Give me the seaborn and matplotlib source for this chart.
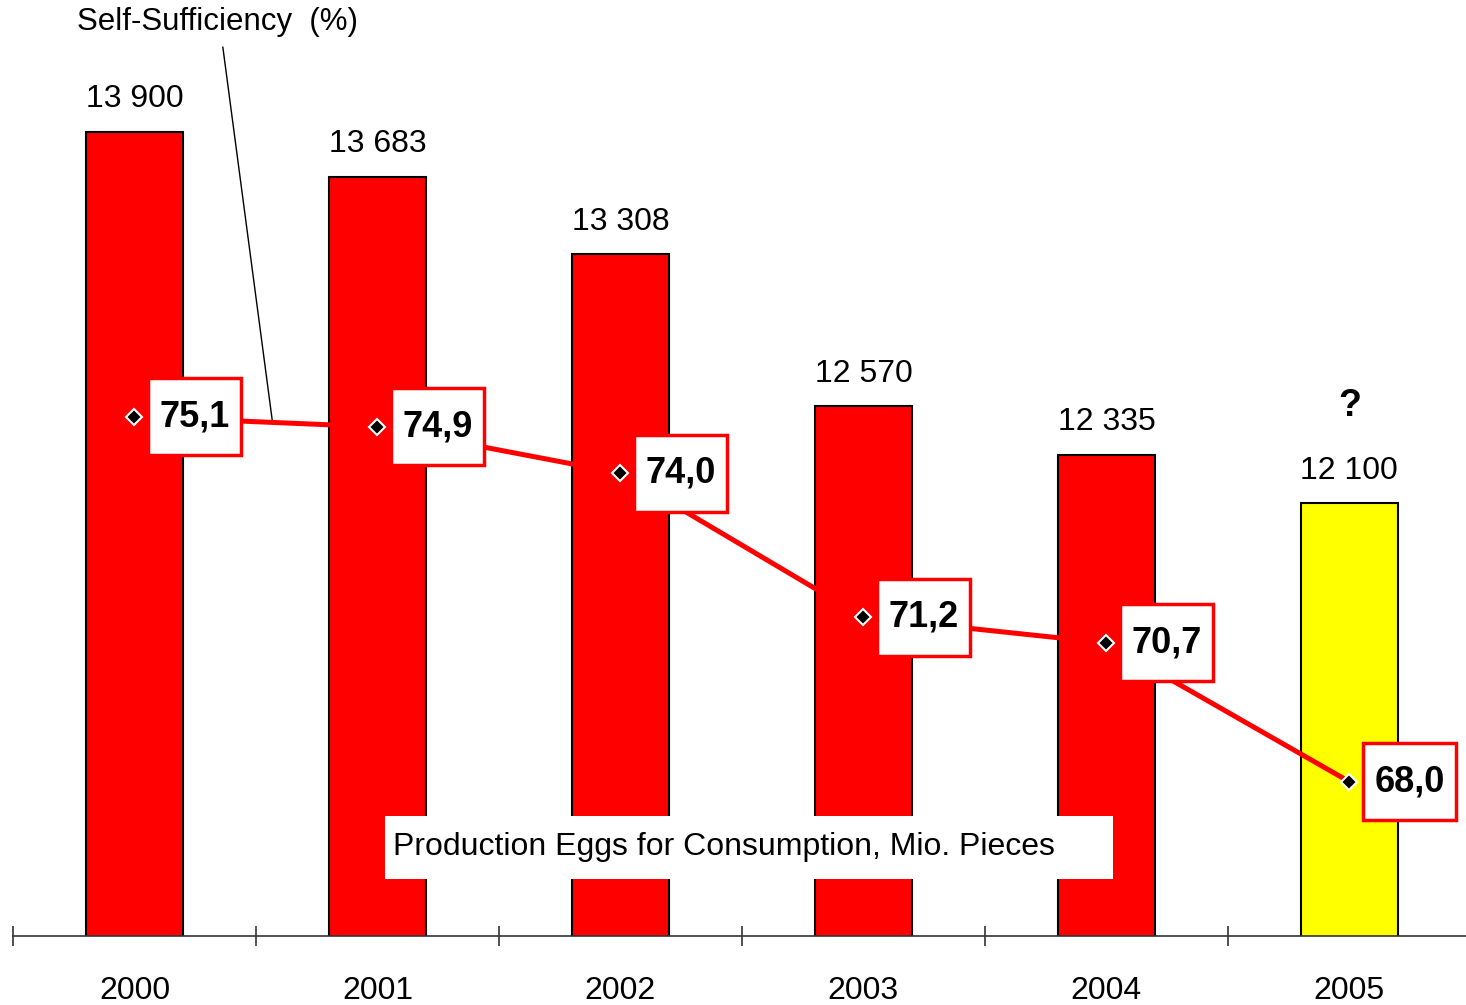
import matplotlib
matplotlib.use("Agg")
import matplotlib.pyplot as plt
import matplotlib.patches as mpatches
from matplotlib.path import Path
import seaborn as sns
import pandas as pd
import numpy as np

years = ['2000', '2001', '2002', '2003', '2004', '2005']
production = [13900, 13683, 13308, 12570, 12335, 12100]
self_suff = [75.1, 74.9, 74.0, 71.2, 70.7, 68.0]
bar_colors = ['#ff0000', '#ff0000', '#ff0000', '#ff0000', '#ff0000', '#ffff00']

sns.set_style('white')
plt.rcParams['font.family'] = ['Liberation Sans', 'DejaVu Sans']
plt.rcParams['text.color'] = 'black'
plt.rcParams['xtick.color'] = 'black'


def label_box(x0, y0, width, height, mutation_size):
    # taller than wide padding, like the spreadsheet data labels
    px = 0.32 * mutation_size
    py = 0.58 * mutation_size
    x0, y0 = x0 - px, y0 - py
    x1, y1 = x0 + width + 2 * px, y0 + height + 2 * py
    return Path([(x0, y0), (x1, y0), (x1, y1), (x0, y1), (x0, y0)], closed=True)


df = pd.DataFrame({'year': years, 'prod': production, 'ss': self_suff})

fig = plt.figure(figsize=(14.66, 10.05), dpi=100)
ax = fig.add_axes([13 / 1466, 69 / 1005, 1 - 13 / 1466, 936 / 1005])

sns.barplot(data=df, x='year', y='prod', hue='year', palette=bar_colors,
            width=0.4, saturation=1, edgecolor='black', linewidth=1.5,
            legend=False, ax=ax)
ax.set_ylim(10000, 14541)
ax.set_xlim(-0.5, 5.48)

for i, v in enumerate(production):
    ax.annotate(f'{v:,}'.replace(',', ' '), xy=(i, v), xytext=(0, 23.5),
                textcoords='offset points', ha='center', va='center', fontsize=23)
ax.annotate('?', xy=(5, production[5]), xytext=(0, 70), textcoords='offset points',
            ha='center', va='center', fontsize=27, fontweight='bold')

# white box behind the series name
ax.add_patch(mpatches.Rectangle((1.029, 10277), 3.0, 305, facecolor='white',
                                edgecolor='none', zorder=5))
ax.text(1.062, 10430, 'Production Eggs for Consumption, Mio. Pieces', fontsize=23,
        ha='left', va='center', zorder=6)

ax.set_xlabel('')
ax.set_ylabel('')
ax.set_yticks([])
for s in ['left', 'right', 'top']:
    ax.spines[s].set_visible(False)
ax.spines['bottom'].set_color('#333333')
ax.spines['bottom'].set_linewidth(1.2)
ax.set_xticks(range(6))
ax.set_xticklabels(years, fontsize=23)
ax.set_xticks(np.arange(-0.5, 5, 1), minor=True)
ax.tick_params(axis='x', which='major', bottom=False, length=0, pad=29)
ax.tick_params(axis='x', which='minor', bottom=True, direction='inout', length=14,
               width=1.1, color='#222222')

ax2 = ax.twinx()
sns.lineplot(x=np.arange(6), y=self_suff, color='#ff0000', linewidth=3.6,
             marker='D', markersize=8, markerfacecolor='black', markeredgecolor='white',
             markeredgewidth=1.5, ax=ax2)
ax2.set_ylim(65, 83.2)
ax2.set_xlim(-0.5, 5.48)
ax2.set_yticks([])
ax2.set_ylabel('')
for s in ['left', 'right', 'top', 'bottom']:
    ax2.spines[s].set_visible(False)

for i, v in enumerate(self_suff):
    ax2.annotate(f'{v:.1f}'.replace('.', ','), xy=(i, v), xytext=(18, 0),
                 textcoords='offset points', ha='left', va='center', fontsize=26,
                 fontweight='bold', zorder=10,
                 bbox=dict(boxstyle=label_box, facecolor='white',
                           edgecolor='#ff0000', linewidth=2.5))

ax2.annotate('', xy=(0.568, 74.99), xytext=(0.362, 82.34),
             arrowprops=dict(arrowstyle='-', color='black', lw=1))
ax2.text(0.343, 82.77, 'Self-Sufficiency  (%)', fontsize=22.5, ha='center', va='center')

plt.savefig('out.png', dpi=100)
